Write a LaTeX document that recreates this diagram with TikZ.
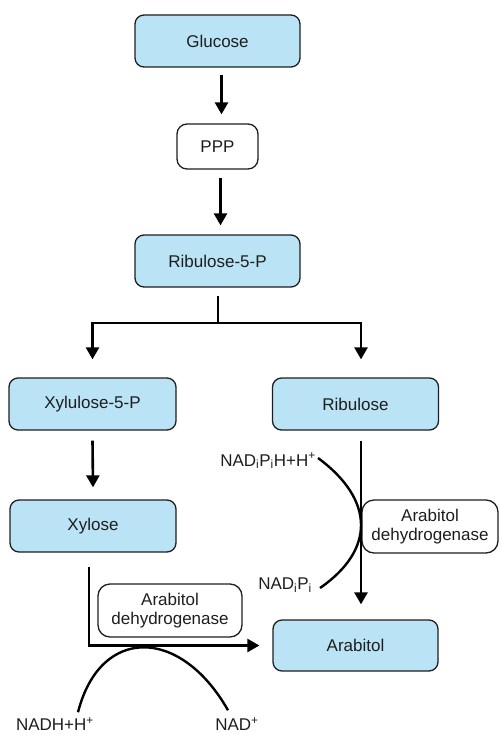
\documentclass[tikz,border=0pt]{standalone}
\usepackage{fontspec}
\setmainfont{Liberation Sans}
\usepackage{xcolor}
\usetikzlibrary{arrows.meta}
\definecolor{boxblue}{RGB}{186,227,245}
\definecolor{inkgray}{RGB}{30,30,30}
\begin{document}
\begin{tikzpicture}[x=1pt,y=-1pt,
  every node/.style={inner sep=0pt,text=inkgray,font=\fontsize{17}{19}\selectfont},
  metab/.style={draw=inkgray,line width=1.3pt,rounded corners=9pt,fill=boxblue},
  enzbox/.style={draw=inkgray,line width=1.3pt,rounded corners=12pt,fill=white,align=center},
  arr/.style={line width=2.6pt,-{Triangle[width=13pt,length=12pt]}},
  cof/.style={line width=2.4pt}]
\useasboundingbox (0,0) rectangle (500,735);
\node [metab,minimum width=165pt,minimum height=52pt] (glu) at (217.5,41) {Glucose};
\node [enzbox,minimum width=81pt,minimum height=45pt,rounded corners=10pt] (ppp) at (217.5,146.5) {PPP};
\node [metab,minimum width=165pt,minimum height=52pt] (r5p) at (217.5,261) {Ribulose-5-P};
\node [metab,minimum width=167pt,minimum height=52pt] (x5p) at (92.5,404) {Xylulose-5-P};
\node [metab,minimum width=166pt,minimum height=52pt] (rib) at (355.5,404) {Ribulose};
\node [metab,minimum width=166pt,minimum height=52pt] (xyl) at (93,526) {Xylose};
\node [metab,minimum width=165pt,minimum height=51pt] (arab) at (355.5,645.5) {Arabitol};
\node [enzbox,minimum width=144pt,minimum height=53pt] (enzL) at (170,610.5) {Arabitol\\dehydrogenase};
\node [enzbox,minimum width=136pt,minimum height=53pt] (enzR) at (430,526.5) {Arabitol\\dehydrogenase};
\node [anchor=east] (nadph) at (316,461) {NAD\textsubscript{i}P\textsubscript{i}H+H\textsuperscript{+}};
\node [anchor=east] (nadp) at (312,585) {NAD\textsubscript{i}P\textsubscript{i}};
\node (nadh) at (55,724) {NADH+H\textsuperscript{+}};
\node (nad) at (237,724) {NAD\textsuperscript{+}};
\coordinate (fork) at (218,323);
\draw [arr] ([xshift=4pt,yshift=-7pt]glu.south) -- ([xshift=4pt,yshift=9pt]ppp.north);
\draw [arr] ([xshift=3pt,yshift=-8pt]ppp.south) -- ([xshift=3pt,yshift=9pt]r5p.north);
\draw [line width=2.6pt] ([xshift=0.5pt,yshift=-8pt]r5p.south) -- (fork);
\draw [arr] (fork) -| ([yshift=18pt]x5p.north);
\draw [arr] (fork) -| ([xshift=5.5pt,yshift=18pt]rib.north);
\draw [arr] ([yshift=-10pt]x5p.south) -- ([yshift=12pt]xyl.north);
\draw [arr] ([xshift=5.5pt,yshift=-10pt]rib.south) -- ([xshift=5.5pt,yshift=15pt]arab.north);
\draw [arr] ([xshift=-4pt,yshift=-14pt]xyl.south) |- ([xshift=-13pt]arab.west);
\draw [cof] ([xshift=2pt,yshift=3pt]nadph.east) .. controls (375,500) and (375,550) .. ([xshift=8pt,yshift=-3pt]nadp.east);
\draw [cof] ([xshift=23pt,yshift=5pt]nadh.north) .. controls (100,626) and (180,626) .. ([xshift=-9pt,yshift=7pt]nad.north);
\end{tikzpicture}
\end{document}
